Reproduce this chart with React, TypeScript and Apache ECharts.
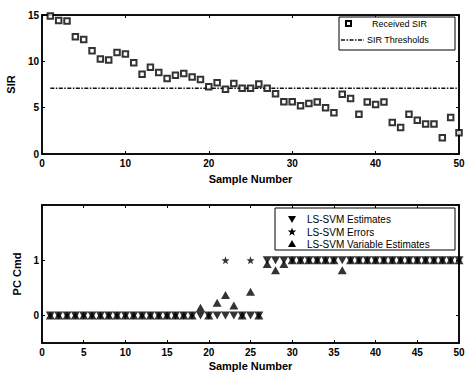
import React, { useEffect, useRef } from "react";
import * as echarts from "echarts";

const sampleNumbers = [
  1, 2, 3, 4, 5, 6, 7, 8, 9, 10, 11, 12, 13, 14, 15, 16, 17, 18, 19, 20, 21, 22, 23, 24, 25,
  26, 27, 28, 29, 30, 31, 32, 33, 34, 35, 36, 37, 38, 39, 40, 41, 42, 43, 44, 45, 46, 47, 48, 49, 50,
];
const receivedSIR = [
  14.9, 14.4, 14.35, 12.65, 12.35, 11.15, 10.25, 10.15, 10.95, 10.8, 9.85, 8.6, 9.35, 8.8, 8.15,
  8.5, 8.7, 8.3, 8.05, 7.25, 7.7, 7.0, 7.6, 7.1, 7.1, 7.55, 7.1, 6.5, 5.65, 5.65, 5.2, 5.45, 5.6,
  5.0, 4.45, 6.45, 6.0, 4.3, 5.6, 5.35, 5.6, 3.4, 2.85, 4.3, 3.65, 3.25, 3.25, 1.75, 3.95, 2.3,
];
const sirThresholds = [
  7.1, 7.1, 7.1, 7.1, 7.1, 7.1, 7.1, 7.1, 7.1, 7.1, 7.1, 7.1, 7.1, 7.1, 7.1, 7.1, 7.1, 7.1, 7.1, 7.1,
  7.1, 7.1, 7.1, 7.1, 7.1, 7.1, 7.1, 7.1, 7.1, 7.1, 7.1, 7.1, 7.1, 7.1, 7.1, 7.1, 7.1, 7.1, 7.1, 7.1,
  7.1, 7.1, 7.1, 7.1, 7.1, 7.1, 7.1, 7.1, 7.1, 7.1,
];
const lsSvmEstimates = [
  0, 0, 0, 0, 0, 0, 0, 0, 0, 0, 0, 0, 0, 0, 0, 0, 0, 0, 0, 0, 0, 0, 0, 0, 0, 0,
  1, 1, 1, 1, 1, 1, 1, 1, 1, 1, 1, 1, 1, 1, 1, 1, 1, 1, 1, 1, 1, 1, 1, 1,
];
const lsSvmErrorSamples = [22, 25];
const lsSvmErrorValues = [1, 1];
const lsSvmVariableEstimates = [
  0, 0, 0, 0, 0, 0, 0, 0, 0, 0, 0, 0, 0, 0, 0, 0, 0, 0, 0.14, 0, 0.23, 0.37, 0.18, 0, 0.43, 0,
  0.93, 0.82, 0.93, 1, 1, 1, 1, 1, 1, 0.82, 1, 1, 1, 1, 1, 1, 1, 1, 1, 1, 1, 1, 1, 1,
];
const sirTicks = [0, 5, 10, 15];
const pcCmdTicks = [0, 1];
const sampleTicksTop = [0, 10, 20, 30, 40, 50];
const sampleTicksBottom = [0, 5, 10, 15, 20, 25, 30, 35, 40, 45, 50];

const FONT = "'Liberation Sans', Arial, Helvetica, sans-serif";
const STAR =
  "path://M10,0L12.35,6.76L19.51,6.91L13.8,11.24L15.88,18.09L10,14L4.12,18.09L6.2,11.24L0.49,6.91L7.65,6.76Z";
const DOWN_TRI = "path://M0,0L10,0L5,9Z";
const UP_TRI = "path://M5,0L10,9L0,9Z";
const SQUARE = "path://M0,0L10,0L10,10L0,10Z";

const starPoints = (cx: number, cy: number, R: number) => {
  const pts: number[][] = [];
  for (let i = 0; i < 10; i++) {
    const a = (-90 + i * 36) * (Math.PI / 180);
    const r = i % 2 === 0 ? R : R * 0.4;
    pts.push([cx + r * Math.cos(a), cy + r * Math.sin(a)]);
  }
  return pts;
};

const labelStyle = { color: "#000", fontFamily: FONT, fontSize: 10, fontWeight: "bold" as const };

export default function App() {
  const ref = useRef<HTMLDivElement>(null);
  useEffect(() => {
    if (!ref.current) return;
    const chart = echarts.init(ref.current, undefined, { renderer: "svg" });
    const mkLine = () => ({ show: true, onZero: false, lineStyle: { color: "#000", width: 1.5 } });
    const mkTick = (ticks: number[]) => ({
      show: true,
      inside: true,
      length: 3,
      customValues: ticks,
      lineStyle: { color: "#000", width: 1 },
    });
    const mainX = (gridIndex: number, ticks: number[], gap: number) => ({
      type: "value",
      gridIndex,
      position: "bottom",
      min: 0,
      max: 50,
      name: "Sample Number",
      nameLocation: "middle",
      nameGap: gap,
      nameTextStyle: { color: "#000", fontFamily: FONT, fontSize: 11, fontWeight: "bold" },
      axisLine: mkLine(),
      axisTick: mkTick(ticks),
      axisLabel: { ...labelStyle, margin: 4, customValues: ticks },
      splitLine: { show: false },
    });
    const mirrorX = (gridIndex: number, ticks: number[]) => ({
      type: "value",
      gridIndex,
      position: "top",
      min: 0,
      max: 50,
      axisLine: mkLine(),
      axisTick: mkTick(ticks),
      axisLabel: { show: false, customValues: ticks },
      splitLine: { show: false },
    });
    const mainY = (gridIndex: number, name: string, min: number, max: number, ticks: number[], gap: number) => ({
      type: "value",
      gridIndex,
      position: "left",
      min,
      max,
      name,
      nameLocation: "middle",
      nameGap: gap,
      nameTextStyle: { color: "#000", fontFamily: FONT, fontSize: 11, fontWeight: "bold" },
      axisLine: mkLine(),
      axisTick: mkTick(ticks),
      axisLabel: { ...labelStyle, margin: 3, customValues: ticks },
      splitLine: { show: false },
    });
    const mirrorY = (gridIndex: number, min: number, max: number, ticks: number[]) => ({
      type: "value",
      gridIndex,
      position: "right",
      min,
      max,
      axisLine: mkLine(),
      axisTick: mkTick(ticks),
      axisLabel: { show: false, customValues: ticks },
      splitLine: { show: false },
    });

    const legendText = (x: number, y: number, text: string, size: number) => ({
      type: "text",
      x,
      y,
      style: { text, fill: "#000", fontFamily: FONT, fontSize: size, verticalAlign: "middle", align: "left" },
      z: 101,
    });

    const gridBase = {
      left: 42,
      right: 8,
      containLabel: false,
      outerBoundsMode: "none",
      show: true,
      borderColor: "#000",
      borderWidth: 1.5,
      backgroundColor: "rgba(0,0,0,0)",
    };

    chart.setOption({
      animation: false,
      backgroundColor: "#fff",
      grid: [
        { ...gridBase, top: 15, height: 139 },
        { ...gridBase, top: 205, height: 138 },
      ],
      xAxis: [
        mainX(0, sampleTicksTop, 19),
        mainX(1, sampleTicksBottom, 17),
        mirrorX(0, sampleTicksTop),
        mirrorX(1, sampleTicksBottom),
      ],
      yAxis: [
        mainY(0, "SIR", 0, 15, sirTicks, 14),
        mainY(1, "PC Cmd", -0.5, 2, pcCmdTicks, 15),
        mirrorY(0, 0, 15, sirTicks),
        mirrorY(1, -0.5, 2, pcCmdTicks),
      ],
      series: [
        {
          name: "SIR Thresholds",
          type: "line",
          xAxisIndex: 0,
          yAxisIndex: 0,
          data: sampleNumbers.map((s, i) => [s, sirThresholds[i]]),
          showSymbol: false,
          lineStyle: { color: "#111", width: 1.5, type: [4, 1.5, 1.5, 1.5] },
          z: 2,
        },
        {
          name: "Received SIR",
          type: "scatter",
          xAxisIndex: 0,
          yAxisIndex: 0,
          data: sampleNumbers.map((s, i) => [s, receivedSIR[i]]),
          symbol: SQUARE,
          symbolSize: 5.5,
          itemStyle: { color: "#fff", borderColor: "#000", borderWidth: 2 },
          z: 3,
        },
        {
          name: "LS-SVM Estimates",
          type: "scatter",
          xAxisIndex: 1,
          yAxisIndex: 1,
          data: sampleNumbers.map((s, i) => [s, lsSvmEstimates[i]]),
          symbol: DOWN_TRI,
          symbolSize: [9, 8],
          itemStyle: { color: "#000" },
          z: 3,
        },
        {
          name: "LS-SVM Errors",
          type: "scatter",
          xAxisIndex: 1,
          yAxisIndex: 1,
          data: lsSvmErrorSamples.map((s, i) => [s, lsSvmErrorValues[i]]),
          symbol: STAR,
          symbolSize: 8,
          itemStyle: { color: "#000" },
          z: 3,
        },
        {
          name: "LS-SVM Variable Estimates",
          type: "scatter",
          xAxisIndex: 1,
          yAxisIndex: 1,
          data: sampleNumbers.map((s, i) => [s, lsSvmVariableEstimates[i]]),
          symbol: UP_TRI,
          symbolSize: [9, 8],
          itemStyle: { color: "#000" },
          z: 3,
        },
      ],
      graphic: [
        {
          type: "rect",
          shape: { x: 339, y: 17, width: 116, height: 33 },
          style: { fill: "#fff", stroke: "#000", lineWidth: 1 },
          z: 100,
        },
        {
          type: "rect",
          shape: { x: 346, y: 21, width: 5, height: 5 },
          style: { fill: "#fff", stroke: "#000", lineWidth: 2 },
          z: 101,
        },
        legendText(372, 24, "Received SIR", 9),
        {
          type: "line",
          shape: { x1: 341, y1: 40, x2: 364, y2: 40 },
          style: { stroke: "#111", lineWidth: 1.5, lineDash: [4, 1.5, 1.5, 1.5] },
          z: 101,
        },
        legendText(367, 40, "SIR Thresholds", 9),
        {
          type: "rect",
          shape: { x: 275, y: 208, width: 180, height: 42 },
          style: { fill: "#fff", stroke: "#000", lineWidth: 1 },
          z: 100,
        },
        {
          type: "polygon",
          shape: { points: [[288, 216], [296, 216], [292, 223]] },
          style: { fill: "#000" },
          z: 101,
        },
        legendText(307, 219, "LS-SVM Estimates", 10),
        {
          type: "polygon",
          shape: { points: starPoints(292, 232, 4.5) },
          style: { fill: "#000" },
          z: 101,
        },
        legendText(307, 232, "LS-SVM Errors", 10),
        {
          type: "polygon",
          shape: { points: [[292, 240], [296, 247], [288, 247]] },
          style: { fill: "#000" },
          z: 101,
        },
        legendText(307, 244, "LS-SVM Variable Estimates", 10),
      ],
    });
    return () => chart.dispose();
  }, []);
  return <div ref={ref} style={{ position: "absolute", left: 0, top: 0, width: 467, height: 373 }} />;
}
